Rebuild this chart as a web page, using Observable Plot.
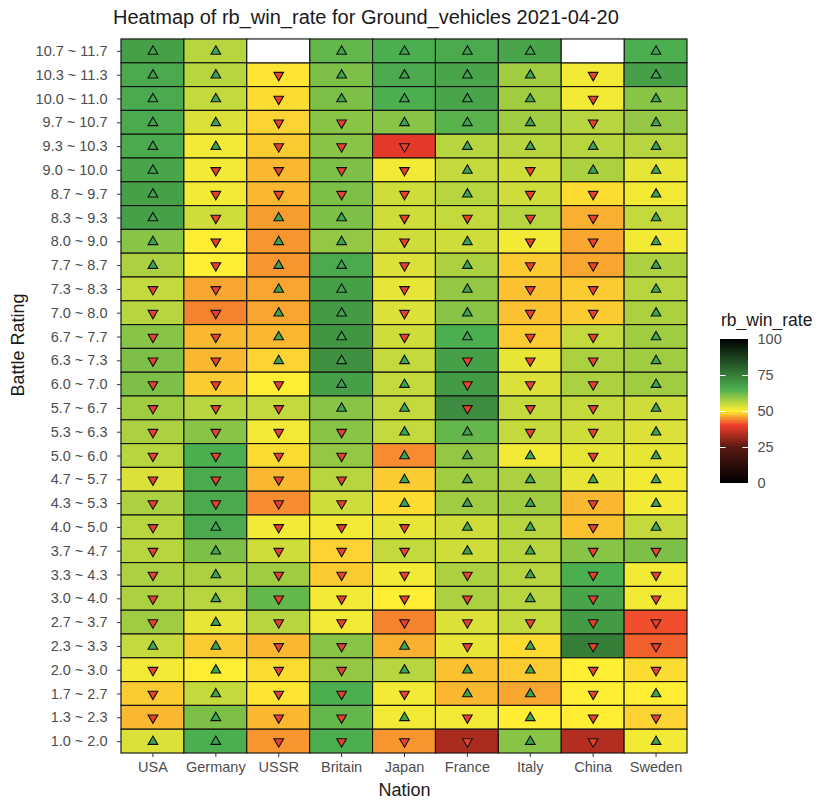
<!DOCTYPE html>
<html>
<head>
<meta charset="utf-8">
<script src="https://cdn.jsdelivr.net/npm/d3@7"></script>
<script src="https://cdn.jsdelivr.net/npm/@observablehq/plot@0.6"></script>
<style>
  body { margin: 0; background: #fff; font-family: "Liberation Sans", Arial, sans-serif; }
  #wrap { position: relative; width: 824px; height: 806px; }
  #title { position: absolute; left: 113px; top: 6px; font-size: 20px; color: #1a1a1a; white-space: nowrap; }
  #chart { position: absolute; left: 0; top: 30px; }
  #legend { position: absolute; left: 700px; top: 330px; }
  #legtitle { position: absolute; left: 721px; top: 310px; font-size: 17.5px; color: #1a1a1a; }
</style>
</head>
<body>
<div id="wrap">
  <div id="title">Heatmap of rb_win_rate for Ground_vehicles 2021-04-20</div>
  <div id="chart"></div>
  <div id="legtitle">rb_win_rate</div>
  <div id="legend"></div>
</div>
<script>
const nations = ["USA","Germany","USSR","Britain","Japan","France","Italy","China","Sweden"];
const brackets = ["10.7 ~ 11.7","10.3 ~ 11.3","10.0 ~ 11.0","9.7 ~ 10.7","9.3 ~ 10.3","9.0 ~ 10.0","8.7 ~ 9.7","8.3 ~ 9.3","8.0 ~ 9.0","7.7 ~ 8.7","7.3 ~ 8.3","7.0 ~ 8.0","6.7 ~ 7.7","6.3 ~ 7.3","6.0 ~ 7.0","5.7 ~ 6.7","5.3 ~ 6.3","5.0 ~ 6.0","4.7 ~ 5.7","4.3 ~ 5.3","4.0 ~ 5.0","3.7 ~ 4.7","3.3 ~ 4.3","3.0 ~ 4.0","2.7 ~ 3.7","2.3 ~ 3.3","2.0 ~ 3.0","1.7 ~ 2.7","1.3 ~ 2.3","1.0 ~ 2.0"];

// win rates, top bracket first
const usa     = [68,66,66,66,66,67,68,68,60,57,55,56,60,61,61,58,57,56,53,57,56,56,57,57,58,55,51,48,47,53];
const germany = [56,56,55,53,51,51,51,54,50,50,46,44,47,47,48,56,60,65,66,66,66,61,57,56,52,48,50,55,61,65];
const ussr    = [null,49.5,49,48.5,48,47,47,45.5,45,45,46,46,47,48.5,50,55,51,49,47,44.5,51,54,58,63,56,47,49,49.5,47,45];
const britain = [63,61,61,60,60,61,61,61,59,66,68,69,70,71,68,60,60,59,56,54,51,48.5,48,51,51,60,59,65,63,65];
const japan   = [65,66,65,60,39,51,54,54,54,53,52,53,54,55,55,55,55,44.5,48,49,52,55,51,50,44,46.5,56,51,51,45];
const france  = [66,67,67,64,56,55,56,55,54,57,59,60,65,68,69,72,63,59,58,58,54,54,57,57,53,52,47.5,47,51,33];
const italy   = [67,58,58,58,56,54,54,56,51,48,47.5,47.5,48,52,53,55,55,51,57,58,56,56,56,56,55,49,48,46,50,60];
const china   = [null,51,51,56,56,57,49,46.5,46,46,48,48,55,57,57,55,54,52,52,47,47.5,60,65,67,69,75,50,50,50,34];
const sweden  = [65,68,60,59,56,52,51,55,51,57,56,57,58,58,58,54,53,52,51,51,55,61,51,51,41,42,49,50,48.5,51];

// trend markers: 1 = up triangle, -1 = down triangle, 0 = none
const usaT     = [1,1,1,1,1,1,1,1,1,1,-1,-1,-1,-1,-1,-1,-1,-1,-1,-1,-1,-1,-1,-1,-1,1,-1,-1,-1,1];
const germanyT = [1,1,1,1,1,-1,-1,-1,-1,-1,-1,-1,-1,-1,-1,-1,-1,-1,-1,-1,1,1,1,1,1,1,1,1,1,1];
const ussrT    = [0,-1,-1,-1,-1,-1,-1,1,1,1,1,1,1,1,-1,-1,-1,-1,-1,-1,-1,-1,-1,-1,-1,-1,-1,-1,-1,-1];
const britainT = [1,1,1,-1,-1,-1,-1,1,1,1,1,1,1,1,1,1,-1,-1,-1,-1,-1,-1,-1,-1,-1,-1,-1,-1,-1,-1];
const japanT   = [1,1,1,1,-1,-1,-1,-1,-1,-1,-1,-1,-1,1,1,1,1,1,1,1,-1,-1,-1,-1,-1,1,1,-1,1,-1];
const franceT  = [1,1,1,1,1,1,1,-1,1,1,1,1,1,-1,-1,-1,1,1,1,1,1,1,-1,-1,-1,-1,1,1,-1,-1];
const italyT   = [1,1,1,1,1,-1,-1,-1,-1,-1,-1,-1,-1,-1,-1,-1,-1,1,1,1,1,1,1,1,-1,1,1,1,1,1];
const chinaT   = [0,-1,-1,-1,1,1,-1,-1,-1,-1,-1,-1,-1,-1,-1,-1,-1,-1,1,-1,-1,-1,-1,-1,-1,-1,-1,-1,-1,-1];
const swedenT  = [1,1,1,1,1,1,1,1,1,1,1,1,1,1,1,1,1,1,1,1,1,-1,-1,-1,-1,-1,-1,1,-1,1];

const valueCols = [usa,germany,ussr,britain,japan,france,italy,china,sweden];
const trendCols = [usaT,germanyT,ussrT,britainT,japanT,franceT,italyT,chinaT,swedenT];

const data = [];
nations.forEach((n, i) => {
  brackets.forEach((b, j) => {
    data.push({nation: n, br: b, rate: valueCols[i][j], trend: trendCols[i][j]});
  });
});

const colorStops = [0, 25, 40, 50, 65, 100];
const colorRange = ["#000000","#5a1a12","#ee3b2b","#ffee33","#4caf4f","#000000"];
const colorScale = {type: "linear", domain: colorStops, range: colorRange, interpolate: "rgb"};

const downTriangle = {
  draw(ctx, size) {
    const s = Math.sqrt(size / (Math.sqrt(3) / 4));
    const h = s * Math.sqrt(3) / 2;
    ctx.moveTo(-s / 2, -h / 3);
    ctx.lineTo(s / 2, -h / 3);
    ctx.lineTo(0, 2 * h / 3);
    ctx.closePath();
  }
};

const font = "'Liberation Sans', Arial, sans-serif";

const chart = Plot.plot({
  width: 700,
  height: 776,
  marginLeft: 121,
  marginRight: 13,
  marginTop: 9,
  marginBottom: 53,
  style: {fontFamily: font, fontSize: "14.5px", color: "#4d4d4d", background: "white"},
  x: {domain: nations, paddingInner: 0, paddingOuter: 0, round: false, label: null},
  y: {domain: brackets, paddingInner: 0, paddingOuter: 0, round: false, label: null},
  color: colorScale,
  marks: [
    Plot.frame({fill: "#ebebeb", stroke: null, insetLeft: -1.5, insetTop: -2}),
    Plot.cell(data.filter(d => d.rate != null), {x: "nation", y: "br", fill: "rate", stroke: "#111", strokeWidth: 1.1, inset: 0}),
    Plot.cell(data.filter(d => d.rate == null), {x: "nation", y: "br", fill: "white", stroke: "#111", strokeWidth: 1.1, inset: 0}),
    Plot.dot(data.filter(d => d.trend === 1), {x: "nation", y: "br", symbol: "triangle", r: 3.6, fill: "#3da34d", stroke: "#111", strokeWidth: 1.1}),
    Plot.dot(data.filter(d => d.trend === -1), {x: "nation", y: "br", symbol: downTriangle, r: 3.6, fill: "#e8402c", stroke: "#111", strokeWidth: 1.1}),
    Plot.axisX({tickSize: 4, tickPadding: 4, fontSize: 14.5, label: null, stroke: "#333"}),
    Plot.axisY({tickSize: 4, tickPadding: 10, fontSize: 14.5, label: null, stroke: "#333"}),
    Plot.text(["Nation"], {frameAnchor: "bottom", dy: 42, fontSize: 18, fill: "#1a1a1a"}),
    Plot.text(["Battle Rating"], {frameAnchor: "left", dx: -103, rotate: -90, fontSize: 18, fill: "#1a1a1a"})
  ]
});
document.getElementById("chart").appendChild(chart);

// legend colour bar
const legendSteps = d3.range(0, 100, 0.5);
const legend = Plot.plot({
  width: 124,
  height: 162,
  marginLeft: 20,
  marginRight: 76,
  marginTop: 9,
  marginBottom: 9,
  style: {fontFamily: font, fontSize: "14.5px", color: "#4d4d4d", background: "white"},
  x: {domain: [0, 1], axis: null},
  y: {domain: [0, 100], axis: null},
  color: colorScale,
  marks: [
    Plot.rect(legendSteps, {x1: 0, x2: 1, y1: d => d, y2: d => Math.min(100, d + 1.5), fill: d => d + 0.25, shapeRendering: "crispEdges"}),
    Plot.ruleY([25, 50, 75], {x1: 0, x2: 0.2, stroke: "white", strokeWidth: 1}),
    Plot.ruleY([25, 50, 75], {x1: 0.8, x2: 1, stroke: "white", strokeWidth: 1}),
    Plot.text([0, 25, 50, 75, 100], {x: 1, y: d => d, text: d => String(d), textAnchor: "start", dx: 9, fontSize: 14.5, fill: "#4d4d4d"})
  ]
});
document.getElementById("legend").appendChild(legend);
</script>
</body>
</html>
